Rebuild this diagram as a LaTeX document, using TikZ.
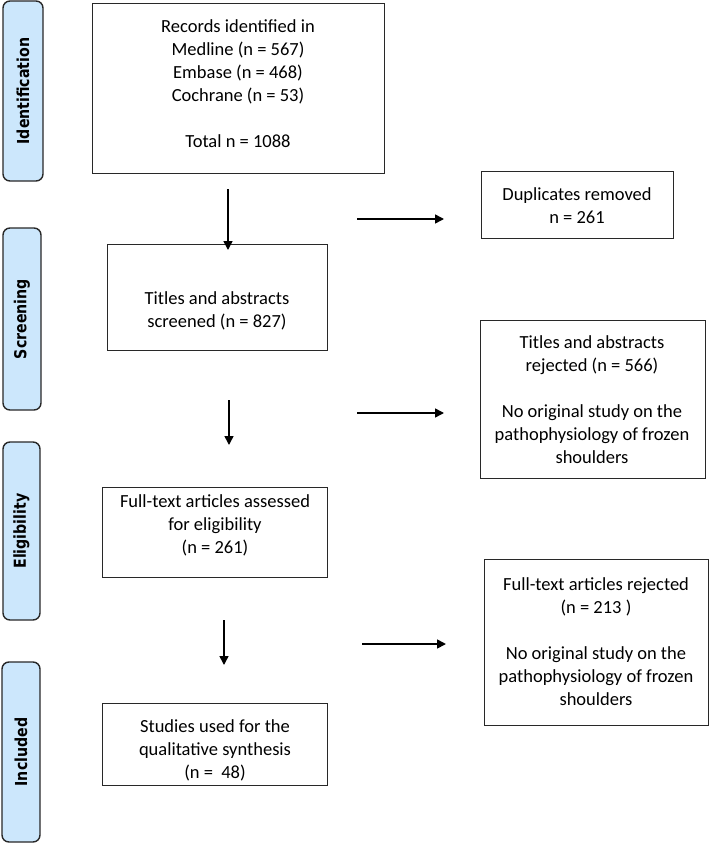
\documentclass[tikz,border=0pt]{standalone}
\usepackage{fontspec}
\setmainfont{Carlito}
\newfontfamily\stagefont[FakeStretch=0.86]{DejaVu Sans}
\usetikzlibrary{arrows.meta}
\definecolor{stagefill}{RGB}{204,231,252}
\definecolor{edgecol}{RGB}{40,40,40}
\tikzset{
  boxframe/.style={draw=edgecol, line width=1.4pt, inner sep=0pt, anchor=north west},
  boxtext/.style={align=center, inner sep=0pt, font=\fontsize{18.5}{23}\selectfont},
  stage/.style={draw=edgecol, line width=1.4pt, fill=stagefill, rounded corners=7pt,
    rotate=90, inner sep=0pt, font=\stagefont\bfseries\fontsize{16.5}{19}\selectfont},
  arr/.style={line width=1.6pt, -{Triangle[width=9pt,length=9pt]}}
}
\begin{document}
\begin{tikzpicture}[x=1pt,y=-1pt]
\useasboundingbox (0,0) rectangle (710,843);
% stage labels
\node[stage, minimum width=180pt, minimum height=40pt] (sid) at (23,91) {Identification};
\node[stage, minimum width=182pt, minimum height=38pt] (ssc) at (22,319) {Screening};
\node[stage, minimum width=178pt, minimum height=37pt] (sel) at (21.5,531) {Eligibility};
\node[stage, minimum width=180pt, minimum height=38pt] (sin) at (21,752) {Included};
% main boxes
\node[boxframe, minimum width=292pt, minimum height=170pt] (rec) at (92,3) {};
\node[boxtext] (rect) at (238,84) {Records identified in\\Medline (n = 567)\\Embase (n = 468)\\Cochrane (n = 53)\\[23pt]Total n = 1088};
\node[boxframe, minimum width=192pt, minimum height=67pt] (dup) at (481,171) {};
\node[boxtext] (dupt) at (577,206) {Duplicates removed\\n = 261};
\node[boxframe, minimum width=220pt, minimum height=106pt] (tas) at (107,244) {};
\node[boxtext] (tast) at (217,311) {Titles and abstracts\\screened (n = 827)};
\node[boxframe, minimum width=225pt, minimum height=158pt] (tar) at (480,320) {};
\node[boxtext] (tart) at (592,400) {Titles and abstracts\\rejected (n = 566)\\[23pt]No original study on the\\pathophysiology of frozen\\shoulders};
\node[boxframe, minimum width=225pt, minimum height=90pt] (fta) at (102,487) {};
\node[boxtext] (ftat) at (215,525) {Full-text articles assessed\\for eligibility\\(n = 261)};
\node[boxframe, minimum width=224pt, minimum height=166pt] (ftr) at (484,559) {};
\node[boxtext] (ftrt) at (596,642) {Full-text articles rejected\\(n = 213 )\\[23pt]No original study on the\\pathophysiology of frozen\\shoulders};
\node[boxframe, minimum width=225pt, minimum height=82pt] (stu) at (102,703) {};
\node[boxtext] (stut) at (215,750) {Studies used for the\\qualitative synthesis\\(n =\ \ 48)};
% arrow end points
\coordinate (d1a) at (228,189); \coordinate (d1b) at (228,250);
\coordinate (r1a) at (357,219); \coordinate (r1b) at (444,219);
\coordinate (d2a) at (229,400); \coordinate (d2b) at (229,445);
\coordinate (r2a) at (357,413); \coordinate (r2b) at (444,413);
\coordinate (d3a) at (224,620); \coordinate (d3b) at (224,665);
\coordinate (r3a) at (362,644); \coordinate (r3b) at (446,644);
\draw[arr] (d1a) -- (d1b);
\draw[arr] (r1a) -- (r1b);
\draw[arr] (d2a) -- (d2b);
\draw[arr] (r2a) -- (r2b);
\draw[arr] (d3a) -- (d3b);
\draw[arr] (r3a) -- (r3b);
\end{tikzpicture}
\end{document}
